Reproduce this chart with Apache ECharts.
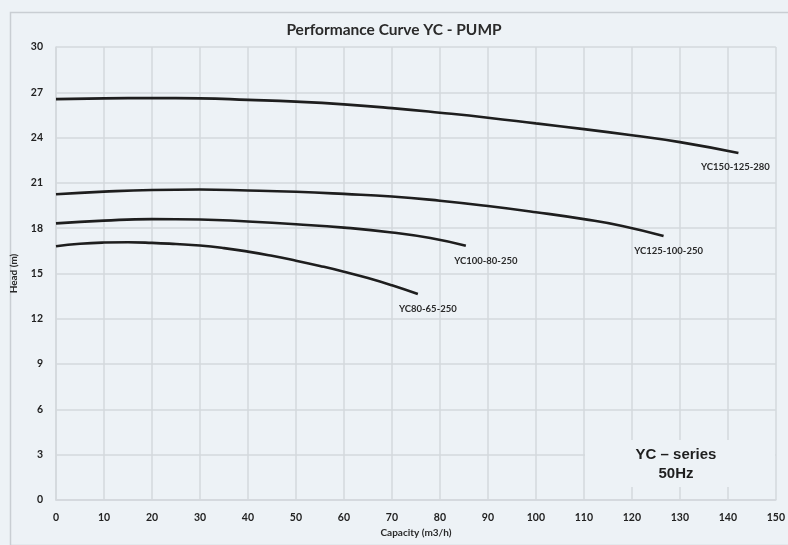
<!DOCTYPE html>
<html><head><meta charset="utf-8">
<script src="https://cdn.jsdelivr.net/npm/echarts@6/dist/echarts.min.js"></script>
<style>html,body{margin:0;padding:0;background:#edf2f6;}#c{width:788px;height:545px;}</style>
</head><body><div id="c"></div>
<script>
const titleText = 'Performance Curve YC - PUMP';
const xAxisName = 'Capacity (m3/h)';
const yAxisName = 'Head (m)';
const noteLines = ['YC \u2013 series', '50Hz'];
const seriesNames = ['YC150-125-280', 'YC125-100-250', 'YC100-80-250', 'YC80-65-250'];

const q150 = [0, 10, 20, 30, 40, 50, 60, 70, 80, 90, 100, 110, 120, 130, 142.2];
const h150 = [26.55, 26.6, 26.62, 26.6, 26.5, 26.38, 26.2, 25.95, 25.65, 25.32, 24.94, 24.56, 24.15, 23.7, 22.98];

const q125 = [0, 10, 20, 30, 40, 50, 60, 70, 80, 90, 100, 110, 118, 126.6];
const h125 = [20.25, 20.42, 20.53, 20.56, 20.5, 20.41, 20.27, 20.1, 19.82, 19.47, 19.06, 18.6, 18.15, 17.48];

const q100 = [0, 10, 20, 30, 40, 50, 60, 70, 78, 85.4];
const h100 = [18.32, 18.5, 18.6, 18.58, 18.44, 18.26, 18.04, 17.72, 17.35, 16.84];

const q80 = [0, 5, 10, 15, 20, 25, 30, 35, 40, 45, 50, 55, 60, 65, 70, 75.4];
const h80 = [16.8, 16.97, 17.05, 17.07, 17.03, 16.95, 16.85, 16.68, 16.45, 16.17, 15.85, 15.5, 15.12, 14.7, 14.22, 13.64];

const xMin = 0, xMax = 150, xStep = 10;
const yMin = 0, yMax = 30, yStep = 3;

const curves = [
  {name: seriesNames[0], q: q150, h: h150, off: [-3, 14]},
  {name: seriesNames[1], q: q125, h: h125, off: [5, 15]},
  {name: seriesNames[2], q: q100, h: h100, off: [20, 15]},
  {name: seriesNames[3], q: q80, h: h80, off: [10, 15]}
];

const font = 'Lato, "Open Sans", sans-serif';
const chart = echarts.init(document.getElementById('c'), null, {renderer: 'canvas'});

const series = curves.map(c => ({
  name: c.name,
  type: 'line',
  smooth: 0.5,
  showSymbol: true,
  symbol: 'circle',
  symbolSize: 0,
  lineStyle: {color: '#1e1e1e', width: 2.6},
  itemStyle: {color: '#1e1e1e'},
  emphasis: {disabled: true},
  silent: true,
  z: 3,
  data: c.q.map((x, i) => {
    const item = {value: [x, c.h[i]]};
    if (i === c.q.length - 1) {
      item.label = {
        show: true, position: 'inside', offset: c.off,
        formatter: c.name, color: '#2a2a2a',
        fontFamily: font, fontWeight: 'bold', fontSize: 9.5
      };
    }
    return item;
  })
}));

chart.setOption({
  backgroundColor: '#edf2f6',
  animation: false,
  title: {
    text: titleText, left: 'center', top: 17,
    textStyle: {fontFamily: font, fontWeight: 'bold', fontSize: 15.5, color: '#2a2a2a'}
  },
  grid: {left: 56, right: 8, top: 47, bottom: 45, containLabel: false},
  xAxis: {
    type: 'value', min: xMin, max: xMax, interval: xStep,
    name: xAxisName, nameLocation: 'middle', nameGap: 27,
    nameTextStyle: {fontFamily: font, fontWeight: 'bold', fontSize: 10, color: '#2a2a2a'},
    axisLine: {show: true, lineStyle: {color: '#d3d8dd', width: 1.5}},
    axisTick: {show: false},
    axisLabel: {fontFamily: font, fontWeight: 'bold', fontSize: 10.5, color: '#222', margin: 12},
    splitLine: {show: true, lineStyle: {color: '#d3d8dd', width: 1.5}}
  },
  yAxis: {
    type: 'value', min: yMin, max: yMax, interval: yStep,
    name: yAxisName, nameLocation: 'middle', nameGap: 37, nameRotate: 90,
    nameTextStyle: {fontFamily: font, fontWeight: 'bold', fontSize: 10, color: '#2a2a2a'},
    axisLine: {show: true, lineStyle: {color: '#d3d8dd', width: 1.5}},
    axisTick: {show: false},
    axisLabel: {fontFamily: font, fontWeight: 'bold', fontSize: 10.5, color: '#222', margin: 13},
    splitLine: {show: true, lineStyle: {color: '#d3d8dd', width: 1.5}}
  },
  graphic: [
    {type: 'rect', left: 8, top: 10, z: -1, silent: true,
     shape: {width: 800, height: 533},
     style: {fill: 'none', stroke: '#c9ced3', lineWidth: 1.5}},
    {type: 'rect', x: 585, y: 440, z: 10, silent: true,
     shape: {width: 190, height: 47},
     style: {fill: '#edf2f6'}},
    {type: 'text', x: 676, y: 445, z: 11, silent: true,
     style: {text: noteLines[0] + '\n' + noteLines[1], textAlign: 'center', fill: '#1e1e1e',
             font: 'bold 15px "Liberation Sans", Arial, sans-serif', lineHeight: 19}}
  ],
  series: series
});
</script>
</body></html>
